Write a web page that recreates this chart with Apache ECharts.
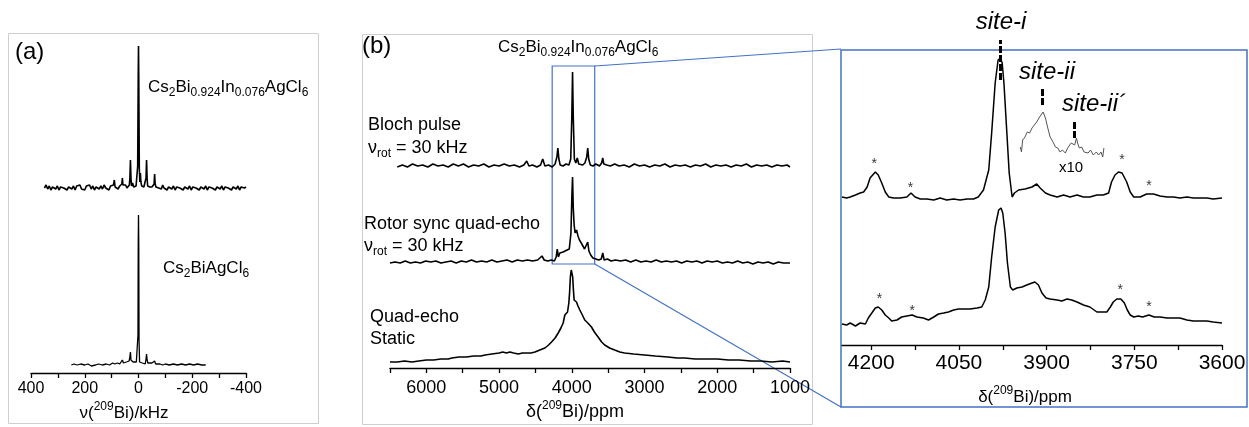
<!DOCTYPE html>
<html><head><meta charset="utf-8">
<script src="https://cdn.jsdelivr.net/npm/echarts@6/dist/echarts.min.js"></script>
<style>html,body{margin:0;padding:0;background:#fff}#c{width:1249px;height:427px}</style>
</head><body><div id="c"></div>
<script>
// ---------- Panel (a): nu(209Bi) / kHz ----------
const A_TICKS = [-400,-300,-200,-100,0,100,200,300,400];
const A_LABELS = [-400,-200,0,200,400];
const A_TOP = [[350,0],[344,3],[338,-1],[332,2],[326,-2],[320,1],[314,3],[308,-1],[302,2],[296,-2],[290,1],[284,3],[278,0],[272,2],[266,-2],[260,1],[254,3],[248,-1],[242,2],[236,-2],[230,2],[224,0],[218,3],[212,-1],[206,1],[200,-2],[194,2],[188,0],[182,3],[176,-1],[170,2],[164,-2],[158,1],[152,3],[146,-1],[140,2],[134,-1],[128,3],[122,0],[116,2],[110,-2],[104,2],[98,0],[93,3],[90,8],[87,1],[82,3],[76,-1],[70,2],[65,1],[62,4],[60,10],[58,3],[54,1],[48,3],[43,0],[38,2],[34,3],[32,10],[30,28],[28,10],[26,2],[22,5],[18,1],[13,3],[9,2],[6,4],[3,22],[1,110],[0,142],[-1,110],[-3,20],[-5,6],[-7,15],[-9,6],[-12,2],[-16,4],[-20,1],[-24,3],[-26,1],[-28,10],[-30,28],[-32,10],[-34,2],[-38,4],[-42,1],[-46,3],[-50,1],[-54,3],[-58,4],[-60,14],[-62,4],[-65,1],[-70,3],[-75,0],[-80,2],[-85,-1],[-90,3],[-95,0],[-100,2],[-106,-2],[-112,1],[-118,3],[-124,-1],[-130,2],[-136,-2],[-142,1],[-148,3],[-154,0],[-160,2],[-166,-2],[-172,1],[-178,3],[-184,-1],[-190,2],[-196,-2],[-202,1],[-208,3],[-214,0],[-220,2],[-226,-2],[-232,1],[-238,3],[-244,-1],[-250,2],[-256,-2],[-262,1],[-268,3],[-274,0],[-280,2],[-286,-2],[-292,1],[-298,3],[-304,-1],[-310,2],[-316,-2],[-322,1],[-328,3],[-334,0],[-340,2],[-346,-2],[-352,1],[-358,3],[-364,-1],[-370,2],[-376,-2],[-382,1],[-388,3],[-394,0],[-400,1]];
const A_BOT = [[250,0],[240,1],[228,0],[215,1],[200,0],[188,1],[175,-1],[160,0],[148,1],[135,0],[120,1],[108,0],[96,2],[88,1],[78,2],[70,1],[64,2],[60,5],[56,2],[50,2],[45,3],[40,2],[35,4],[32,8],[30,13],[28,5],[25,3],[20,3],[14,2],[8,3],[4,4],[2,30],[1,120],[0,150],[-1,120],[-2,25],[-4,3],[-8,2],[-14,2],[-20,2],[-25,1],[-28,6],[-30,11],[-32,5],[-35,2],[-42,1],[-50,2],[-56,2],[-60,4],[-64,1],[-70,1],[-80,1],[-90,0],[-100,1],[-115,0],[-130,1],[-145,0],[-160,1],[-175,0],[-190,1],[-205,0],[-220,1],[-235,0],[-250,0]];

// ---------- Panel (b): delta(209Bi) / ppm ----------
const B_TICKS = [1000,1500,2000,2500,3000,3500,4000,4500,5000,5500,6000,6500];
const B_LABELS = [1000,2000,3000,4000,5000,6000];
const B_BLOCH = [[6400,0],[6330,2],[6260,0],[6190,3],[6120,1],[6050,2],[5980,0],[5910,3],[5840,1],[5770,2],[5700,0],[5630,3],[5560,1],[5490,3],[5420,0],[5350,2],[5280,1],[5210,3],[5140,0],[5070,2],[5000,1],[4930,3],[4860,1],[4790,2],[4720,0],[4660,2],[4620,6],[4590,1],[4540,2],[4480,0],[4430,2],[4400,8],[4370,1],[4320,2],[4270,0],[4230,3],[4205,10],[4192,19],[4178,8],[4160,2],[4120,1],[4080,3],[4040,2],[4015,8],[4000,50],[3990,95],[3980,50],[3965,8],[3945,4],[3925,9],[3905,3],[3880,5],[3850,2],[3820,4],[3795,10],[3781,19],[3768,8],[3745,2],[3710,1],[3670,3],[3620,1],[3590,4],[3575,9],[3560,3],[3520,2],[3470,1],[3410,3],[3350,1],[3280,2],[3210,0],[3140,3],[3070,1],[3000,2],[2930,0],[2860,2],[2790,1],[2720,3],[2650,0],[2580,2],[2510,1],[2440,2],[2370,0],[2300,2],[2230,1],[2160,3],[2090,0],[2020,2],[1950,1],[1880,2],[1810,0],[1740,2],[1670,1],[1600,3],[1530,0],[1460,2],[1390,1],[1320,2],[1250,0],[1180,2],[1110,1],[1040,2],[1000,0]];
const B_ROTOR = [[6500,0],[6430,1],[6360,0],[6290,2],[6220,0],[6150,1],[6080,0],[6010,2],[5940,1],[5870,2],[5800,0],[5730,1],[5660,2],[5590,0],[5520,2],[5450,1],[5380,3],[5310,1],[5240,2],[5170,1],[5100,3],[5030,1],[4960,2],[4890,3],[4820,1],[4750,3],[4680,2],[4610,3],[4540,2],[4470,3],[4410,7],[4380,3],[4330,2],[4280,3],[4240,2],[4215,6],[4200,14],[4185,6],[4165,10],[4145,8],[4120,11],[4095,10],[4065,13],[4035,14],[4012,30],[3998,70],[3990,86],[3980,55],[3968,38],[3955,30],[3935,33],[3915,27],[3895,23],[3870,20],[3845,18],[3825,14],[3800,15],[3781,21],[3765,12],[3740,8],[3710,5],[3670,4],[3630,3],[3595,4],[3575,10],[3555,3],[3510,4],[3460,2],[3400,3],[3330,2],[3260,3],[3190,1],[3120,3],[3050,1],[2980,2],[2910,1],[2840,3],[2770,1],[2700,2],[2630,1],[2560,2],[2490,0],[2420,2],[2350,1],[2280,2],[2210,0],[2140,2],[2070,1],[2000,2],[1930,0],[1860,1],[1790,0],[1720,2],[1650,0],[1580,1],[1510,-1],[1440,1],[1370,0],[1300,1],[1230,-1],[1160,1],[1090,0],[1000,0]];
const B_STATIC = [[6500,0],[6400,0],[6300,1],[6200,0],[6105,1],[6000,2],[5900,2],[5800,3],[5700,3],[5648,4],[5550,5],[5450,5],[5350,6],[5250,6],[5192,7],[5100,8],[5000,9],[4950,10],[4900,9],[4850,10],[4800,9],[4736,8],[4680,9],[4620,9],[4560,9],[4507,10],[4440,12],[4370,14],[4320,17],[4279,20],[4230,24],[4187,29],[4150,34],[4119,39],[4096,47],[4075,49],[4059,50],[4041,59],[4030,70],[4020,85],[4008,92],[3998,92],[3988,85],[3978,72],[3968,62],[3950,61],[3936,60],[3915,56],[3890,52],[3855,47],[3822,42],[3780,39],[3730,35],[3690,30],[3639,25],[3590,20],[3548,17],[3480,14],[3411,12],[3340,10],[3274,9],[3150,8],[3000,7],[2850,6],[2681,5],[2550,4],[2452,4],[2300,3],[2150,3],[1996,3],[1850,2],[1700,2],[1538,1],[1400,1],[1250,0],[1100,1],[1000,0]];
const B_ZOOM_PPM = [4270, 3685];
const B_ZOOM_Y = [104, 302];

// ---------- Panel (c): expansion ----------
const C_TICKS = [3600,3675,3750,3825,3900,3975,4050,4125,4200];
const C_LABELS = [3600,3750,3900,4050,4200];
const C_TOP = [[4250,1],[4242,0],[4236,1],[4227,3],[4219,5],[4213,6],[4207,11],[4202,20],[4193,26],[4188,23],[4182,15],[4176,6],[4170,1],[4162,0],[4150,0],[4139,1],[4132,5],[4125,1],[4116,-1],[4105,-1],[4093,-2],[4082,0],[4071,-2],[4059,-1],[4048,-2],[4036,-1],[4025,-1],[4017,1],[4008,8],[3999,28],[3994,65],[3988,115],[3983,138],[3979,140],[3976,135],[3973,115],[3968,65],[3964,25],[3959,1],[3955,5],[3948,8],[3937,9],[3925,11],[3917,14],[3911,10],[3902,5],[3894,3],[3882,1],[3871,3],[3860,1],[3848,3],[3837,1],[3826,1],[3814,3],[3803,3],[3794,5],[3789,16],[3783,23],[3777,26],[3771,25],[3763,16],[3757,6],[3751,1],[3740,1],[3729,4],[3717,4],[3706,2],[3694,1],[3683,1],[3672,0],[3660,1],[3649,0],[3637,0],[3626,0],[3615,-1],[3600,0]];
const C_INSET = [[3945,51],[3943,46],[3941,58],[3937,61],[3933,66],[3929,65],[3925,70],[3921,73],[3917,76],[3912,81],[3906,86],[3902,80],[3898,70],[3894,61],[3889,56],[3885,51],[3881,50],[3877,46],[3873,48],[3868,45],[3864,50],[3861,51],[3858,55],[3855,56],[3852,53],[3849,60],[3847,55],[3844,50],[3840,51],[3836,46],[3833,48],[3829,45],[3825,48],[3820,43],[3815,46],[3811,43],[3807,46],[3804,41],[3802,50]];
const C_BOT = [[4250,1],[4242,0],[4236,2],[4227,-1],[4219,2],[4210,1],[4205,7],[4199,12],[4193,17],[4188,18],[4182,15],[4176,10],[4170,7],[4165,4],[4156,5],[4148,8],[4139,9],[4130,10],[4122,8],[4111,7],[4102,5],[4093,8],[4085,11],[4076,12],[4068,13],[4059,15],[4051,16],[4042,16],[4031,16],[4019,17],[4011,18],[4005,25],[3999,38],[3994,68],[3988,98],[3982,115],[3978,117],[3975,112],[3971,92],[3967,62],[3962,38],[3958,35],[3951,37],[3942,38],[3934,40],[3925,42],[3920,43],[3914,40],[3908,32],[3901,27],[3894,26],[3882,25],[3874,24],[3865,26],[3857,25],[3848,23],[3837,20],[3826,18],[3814,13],[3806,13],[3797,13],[3791,18],[3786,23],[3780,26],[3773,26],[3767,22],[3762,15],[3757,10],[3751,8],[3743,9],[3736,8],[3725,10],[3716,8],[3706,8],[3694,7],[3683,7],[3672,7],[3660,5],[3649,4],[3637,4],[3626,4],[3615,3],[3600,2]];
const C_STARS_TOP = [[4195,38],[4133,14],[3771,42],[3725,16]];
const C_STARS_BOT = [[4186,30],[4130,18],[3774,39],[3725,22]];
// site markers: [ppm, from, to] (top-spectrum intensity units)
const C_SITES = [[3979,118,158],[3907,93,111],[3853,60,77]];

// ---------- layout / style constants ----------
const FONT = '"Liberation Sans", Arial, sans-serif';
const OFF = { aTop:185, aBot:8, bBloch:201, bRotor:105, bStatic:6, cTop:147, cBot:20 };
const BLUE = '#4472c4';
const shift = (arr, off) => arr.map(p => [p[0], p[1] + off]);

function xa(gi, min, max, ticks, labels, fs, margin) {
  return { gridIndex: gi, type: 'value', min, max, inverse: true,
    axisLine: { show: true, onZero: false, lineStyle: { color: '#000', width: 1.3 } },
    axisTick: { show: true, inside: false, length: 5, lineStyle: { color: '#000', width: 1.3 }, customValues: ticks },
    axisLabel: { show: true, color: '#000', fontSize: fs, fontFamily: FONT, margin, customValues: labels, formatter: v => String(v) },
    splitLine: { show: false } };
}
function ya(gi, max) { return { gridIndex: gi, type: 'value', min: 0, max, show: false }; }
function line(gi, data, w, color, extra) {
  return Object.assign({ type: 'line', xAxisIndex: gi, yAxisIndex: gi, data, showSymbol: false, symbol: 'none',
    lineStyle: { color: color || '#000', width: w }, animation: false, silent: true, clip: false }, extra || {});
}
function stars(data, off) {
  return { type: 'scatter', xAxisIndex: 2, yAxisIndex: 2, data: shift(data, off), symbolSize: 1,
    itemStyle: { color: 'rgba(0,0,0,0)' }, animation: false, silent: true,
    label: { show: true, formatter: '*', position: 'inside', color: '#000', fontSize: 14, fontFamily: FONT, offset: [0, 4] } };
}

const chart = echarts.init(document.getElementById('c'), null, { renderer: 'canvas' });
chart.setOption({
  backgroundColor: '#fff',
  animation: false,
  grid: [
    { left: 31, right: 1003, top: 40, bottom: 54 },
    { left: 390, right: 459, top: 40, bottom: 59 },
    { left: 842, right: 27, top: 30, bottom: 82 }
  ],
  xAxis: [
    xa(0, -400, 400, A_TICKS, A_LABELS, 16, 8),
    xa(1, 1000, 6500, B_TICKS, B_LABELS, 18, 11),
    xa(2, 3600, 4250, C_TICKS, C_LABELS, 21, 8)
  ],
  yAxis: [ya(0, 333), ya(1, 328), ya(2, 315)],
  series: [
    line(0, shift(A_TOP, OFF.aTop), 1.6),
    line(0, shift(A_BOT, OFF.aBot), 1.3),
    line(1, shift(B_BLOCH, OFF.bBloch), 1.6),
    line(1, shift(B_ROTOR, OFF.bRotor), 1.6),
    line(1, shift(B_STATIC, OFF.bStatic), 1.6),
    line(2, shift(C_TOP, OFF.cTop), 1.5, '#000', {
      markLine: { symbol: ['none', 'none'], silent: true, animation: false, label: { show: false },
        lineStyle: { color: '#000', width: 3, type: [7, 2] },
        data: C_SITES.map(s => [{ coord: [s[0], s[1] + OFF.cTop] }, { coord: [s[0], s[2] + OFF.cTop] }]) }
    }),
    line(2, shift(C_INSET, OFF.cTop), 1, '#555'),
    line(2, shift(C_BOT, OFF.cBot), 1.5),
    stars(C_STARS_TOP, OFF.cTop),
    stars(C_STARS_BOT, OFF.cBot)
  ]
});

// ---------- annotations ----------
const SUB = { fontSize: 12, fontFamily: FONT, padding: [12, 0, 0, 0] };
const SUP = { fontSize: 12, fontFamily: FONT, padding: [0, 0, 13, 0] };
function T(x, y, text, size, align, italic) {
  return { type: 'text', x, y, silent: true, z: 100,
    style: { text, fill: '#000', fontSize: size, fontFamily: FONT, fontStyle: italic ? 'italic' : 'normal',
      align: align || 'left', verticalAlign: 'middle', rich: { s: SUB, p: SUP } } };
}
const FORMULA = 'Cs{s|2}Bi{s|0.924}In{s|0.076}AgCl{s|6}';
const p1 = chart.convertToPixel({ gridIndex: 1 }, [B_ZOOM_PPM[0], B_ZOOM_Y[1]]);
const p2 = chart.convertToPixel({ gridIndex: 1 }, [B_ZOOM_PPM[1], B_ZOOM_Y[0]]);
const CBOX = { x: 841, y: 50, w: 406, h: 357 };

chart.setOption({
  graphic: [
    { type: 'rect', shape: { x: 8.5, y: 33.5, width: 310, height: 390 }, style: { fill: 'none', stroke: '#cfcfcf', lineWidth: 1 }, silent: true },
    { type: 'rect', shape: { x: 362.5, y: 34.5, width: 450, height: 390 }, style: { fill: 'none', stroke: '#cfcfcf', lineWidth: 1 }, silent: true },
    { type: 'rect', shape: { x: CBOX.x, y: CBOX.y, width: CBOX.w, height: CBOX.h }, style: { fill: 'none', stroke: BLUE, lineWidth: 1.5 }, silent: true },
    { type: 'rect', shape: { x: p1[0], y: p1[1], width: p2[0] - p1[0], height: p2[1] - p1[1] }, style: { fill: 'none', stroke: BLUE, lineWidth: 1.2 }, silent: true },
    { type: 'line', shape: { x1: p2[0], y1: p1[1], x2: CBOX.x, y2: CBOX.y - 1 }, style: { stroke: BLUE, lineWidth: 1.2 }, silent: true },
    { type: 'line', shape: { x1: p2[0], y1: p2[1], x2: CBOX.x, y2: CBOX.y + CBOX.h }, style: { stroke: BLUE, lineWidth: 1.2 }, silent: true },
    // panel (a)
    T(15, 52, '(a)', 24),
    T(148, 87, FORMULA, 17),
    T(163, 268, 'Cs{s|2}BiAgCl{s|6}', 17),
    T(124, 413, 'ν({p|209}Bi)/kHz', 17, 'center'),
    // panel (b)
    T(362, 46, '(b)', 24),
    T(498, 47, FORMULA, 17),
    T(368, 125, 'Bloch pulse', 18),
    T(368, 148, 'ν{s|rot} = 30 kHz', 18),
    T(364, 224, 'Rotor sync quad-echo', 18),
    T(364, 246, 'ν{s|rot} = 30 kHz', 18),
    T(370, 317, 'Quad-echo', 18),
    T(370, 339, 'Static', 18),
    T(575, 412, 'δ({p|209}Bi)/ppm', 18, 'center'),
    // panel (c)
    T(1001, 22, 'site-i', 24, 'center', true),
    T(1047, 72, 'site-ii', 24, 'center', true),
    T(1062, 104, 'site-ii´', 24, 'left', true),
    T(1071, 168, 'x10', 15, 'center'),
    T(1025, 397, 'δ({p|209}Bi)/ppm', 17, 'center')
  ]
});
</script></body></html>
